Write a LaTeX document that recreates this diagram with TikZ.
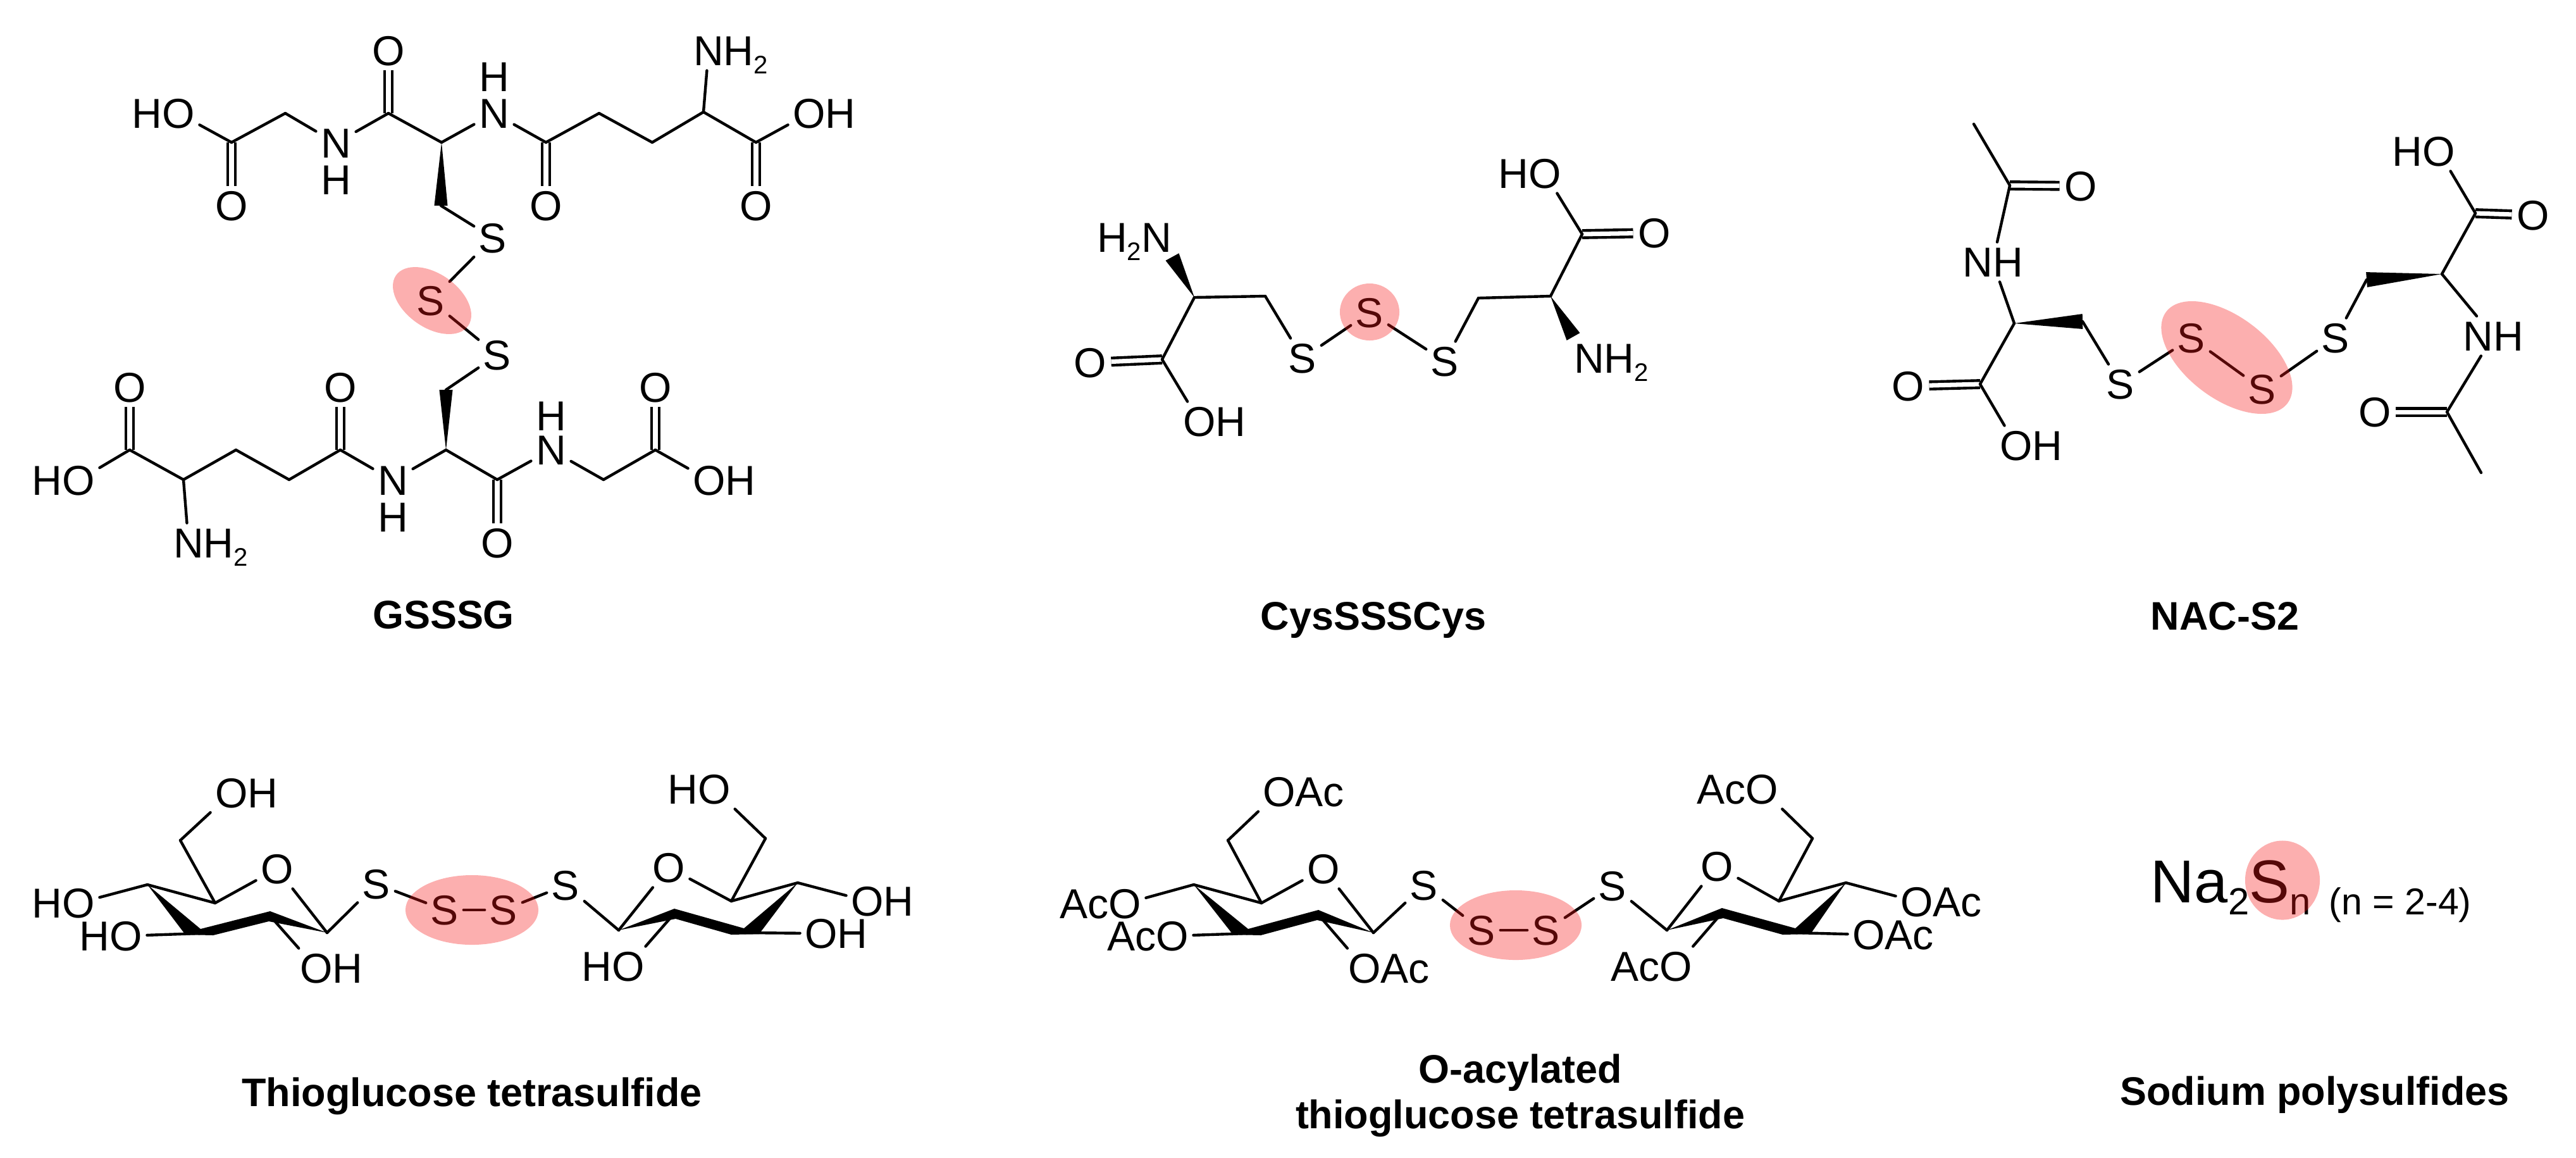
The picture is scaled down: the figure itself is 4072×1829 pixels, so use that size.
\documentclass[tikz,border=0pt]{standalone}
\usepackage{fontspec}
\setmainfont{Liberation Sans}
\usetikzlibrary{calc,shapes.geometric}

% labels that keep the bond on the atom letter
\newcommand\idx[1]{\raisebox{-3.6pt}{\fontsize{11.4}{12}\selectfont #1}}
\newcommand\hO{\llap{H}O}
\newcommand\oH{O\rlap{H}}
\newcommand\nHH{N\rlap{H\idx{2}}}
\newcommand\hhN{\llap{H\idx{2}}N}
\newcommand\oAc{O\rlap{Ac}}
\newcommand\aCo{\llap{Ac}O}
\newcommand\wedgebond[3]{\fill (#1) -- ($(#2)!#3!90:(#1)$) -- ($(#2)!#3!-90:(#1)$) -- cycle;}

\tikzset{
  atom/.style={font=\fontsize{18.8}{20}\selectfont,inner sep=2pt,text height=13.5pt,text depth=0pt},
  bond/.style={line width=1.25pt,line cap=round},
  dbond/.style={line width=1.25pt,double,double distance=2pt},
  caption/.style={font=\fontsize{17.9}{20}\selectfont\bfseries,anchor=base,inner sep=0pt},
  spot/.style={ellipse,inner sep=0pt,fill={rgb,255:red,245;green,25;blue,25},fill opacity=.35}
}

\begin{document}
\begin{tikzpicture}[x=0.01cm,y=-0.01cm]
  \useasboundingbox (0,0) rectangle (4072,1829);

  % Karbon
  \foreach \n/\x/\y in {
    a1/366/225,a2/451/179,a3/614/179,a4/698/225,a5/697/325,a6/863/225,a7/947/179,a8/1031/225,a9/1112/177,a10/1195/225,
    b1/205/711,b2/290/758,b3/373/711,b4/457/758,b5/538/711,b6/705/711,b7/705/616,b8/786/758,b9/954/758,b10/1036/711,
    c1/1888/470,c2/2000/468,c3/1837/568,c4/2337/471,c5/2451/468,c6/2501/370,c7/1853/406,c8/2487/532,
    d1/3120/196,d2/3177/293,d3/3184/511,d4/3292/508,d5/3130/607,d6/3741/442,d7/3860/433,d8/3913/337,d9/3868/651,d10/3922/747,
    e1/517/1474,e2/424/1444,e3/316/1475,e4/233/1398,e5/340/1427,e6/285/1328,
    f1/978/1470,f2/1069/1440,f3/1177/1474,f4/1261/1395,f5/1156/1424,f6/1210/1325,
    g1/2171/1474,g2/2081/1442,g3/1972/1475,g4/1887/1398,g5/1994/1427,g6/1941/1328,
    h1/2635/1470,h2/2725/1439,h3/2839/1474,h4/2918/1395,h5/2812/1424,h6/2865/1325} {
    \coordinate (\n) at (\x,\y);
  }

  % Atomer
  \foreach \n/\x/\y/\txt in {
    aHO/282/179/\hO,aO1/366/325/O,aN1/531/226/N,aH1/531/284/H,aO2/614/80/O,aN2/781/179/N,aH2/781/121/H,
    aO3/863/325/O,aN3/1120/80/\nHH,aOH/1279/179/\oH,aO4/1195/325/O,aS/779/376/S,mS/681/475/S,bS/786/561/S,
    bO1/205/612/O,bHO/124/759/\hO,bN1/298/858/\nHH,bO2/538/612/O,bN2/621/759/N,bH2/621/817/H,
    bO3/786/858/O,bN3/871/711/N,bH3/871/657/H,bOH/1121/759/\oH,bO4/1036/612/O,
    cN1/1828/375/\hhN,cS1/2059/566/S,cS2/2165/494/S,cS3/2284/571/S,cN2/2512/566/\nHH,
    cO1/1723/573/O,cOH/1896/666/\oH,cHO/2442/274/\hO,cO2/2615/368/O,
    dO1/3289/294/O,dN1/3150/414/NH,dS1/3352/607/S,dO2/3016/610/O,dOH/3187/704/\oH,dS2/3464/534/S,dS3/3576/615/S,
    dS4/3692/534/S,dHO/3855/239/\hO,dO3/4004/340/O,dN2/3941/531/NH,dO4/3754/651/O,
    eO/438/1373/O,eS1/595/1397/S,eS2/703/1438/S,eS3/796/1438/S,eS4/894/1399/S,
    eOa/366/1253/\oH,eOb/124/1427/\hO,eOc/199/1479/\hO,eOd/500/1530/\oH,
    fO/1057/1371/O,fOa/1129/1247/\hO,fOb/1371/1424/\oH,fOc/1298/1475/\oH,fOd/993/1527/\hO,
    gO/2092/1373/O,gS1/2251/1399/S,gS2/2342/1470/S,gS3/2444/1470/S,gS4/2549/1400/S,
    gOa/2022/1251/\oAc,gOb/1778/1428/\aCo,gOc/1853/1479/\aCo,gOd/2157/1530/\oAc,
    hO/2714/1369/O,hOa/2785/1247/\aCo,hOb/3030/1425/\oAc,hOc/2954/1477/\oAc,hOd/2649/1527/\aCo} {
    \node[atom] (\n) at (\x,\y) {\txt};
  }

  % Dobbeltbindinger
  \foreach \p/\q in {a1/aO1,a3/aO2,a6/aO3,a10/aO4,b1/bO1,b5/bO2,b8/bO3,b10/bO4,c3/cO1,c6/cO2,d2/dO1,d5/dO2,d8/dO3,d9/dO4} {
    \draw[dbond] (\p) -- (\q);
  }

  % Enkeltbindinger
  \foreach \p/\q in {
    aHO/a1,a1/a2,a2/aN1,aN1/a3,a3/a4,a4/aN2,aN2/a6,a6/a7,a7/a8,a8/a9,a9/aN3,a9/a10,a10/aOH,a5/aS,aS/mS,mS/bS,
    bHO/b1,b1/b2,b2/b3,b3/b4,b4/b5,b5/bN2,bN2/b6,b6/b8,b8/bN3,bN3/b9,b9/b10,b10/bOH,b2/bN1,b7/bS,
    c1/c2,c2/cS1,c1/c3,c3/cOH,cS1/cS2,cS2/cS3,cS3/c4,c4/c5,c5/c6,c6/cHO,
    d1/d2,d2/dN1,dN1/d3,d3/d5,d5/dOH,d4/dS1,dS1/dS2,dS2/dS3,dS3/dS4,dS4/d6,d7/d8,d8/dHO,d7/dN2,dN2/d9,d9/d10,
    e1/eS1,eS1/eS2,eS2/eS3,eS3/eS4,eS4/f1,g1/gS1,gS1/gS2,gS2/gS3,gS3/gS4,gS4/h1} {
    \draw[bond] (\p) -- (\q);
  }

  % Kiler
  \foreach \p/\q/\w in {a4/a5/3pt,b6/b7/3pt,c1/c7/3.4pt,c5/c8/3.4pt,d3/d4/3.4pt,d7/d6/3.4pt} {
    \wedgebond{\p}{\q}{\w}
  }

  % Sukkerringer
  \foreach \m/\s in {e/1,f/-1,g/1,h/-1} {
    \foreach \p/\q in {4/5,5/6} {
      \draw[bond] (\m\p) -- (\m\q);
    }
    \draw[bond] (\m5) -- (\m O);
    \draw[bond] (\m O) -- (\m1);
    \draw[bond] (\m6) -- (\m Oa);
    \draw[bond] (\m4) -- (\m Ob);
    \draw[bond] (\m3) -- (\m Oc);
    \draw[bond] (\m2) -- (\m Od);
    \fill (\m4) -- ([shift={(\s*-23,2)}]\m3) -- ([shift={(\s*21,3)}]\m3) -- ([shift={(\s*1,12)}]\m2)
      -- (\m1) -- ([shift={(\s*3,-4)}]\m2) -- ([shift={(\s*1,-7)}]\m3) -- cycle;
  }

  % Natriumpolysulfid
  \node[anchor=base west,inner sep=0pt,font=\fontsize{27.2}{30}\selectfont] (na) at (3399,1426)
    {Na\raisebox{-5.4pt}{\fontsize{17}{20}\selectfont 2}S\raisebox{-5.4pt}{\fontsize{17}{20}\selectfont n}};
  \node[anchor=base west,inner sep=0pt,font=\fontsize{16.8}{20}\selectfont] (nb) at (3681,1445) {(n = 2-4)};

  % Navn
  \foreach \n/\x/\y/\txt in {
    capA/701/993/GSSSG,capB/2171/995/CysSSSCys,capC/3517/995/NAC-S2,capD/746/1748/Thioglucose tetrasulfide,
    capE/2403/1711/O-acylated,capF/2403/1783/thioglucose tetrasulfide,capG/3659/1746/Sodium polysulfides} {
    \node[caption] (\n) at (\x,\y) {\txt};
  }

  % Markering
  \foreach \n/\x/\y/\a/\b/\r in {
    spotA/683/475/1.39/.85/-35,spotB/2165/493/.94/.90/0,spotC/3520/565/2.40/1.30/-37,spotD/746/1438/2.10/1.10/0,
    spotE/2396/1462/2.08/1.10/0,spotF/3608/1391/1.18/1.25/0} {
    \node[spot,minimum width=\a cm,minimum height=\b cm,rotate=\r] (\n) at (\x,\y) {};
  }
\end{tikzpicture}
\end{document}
